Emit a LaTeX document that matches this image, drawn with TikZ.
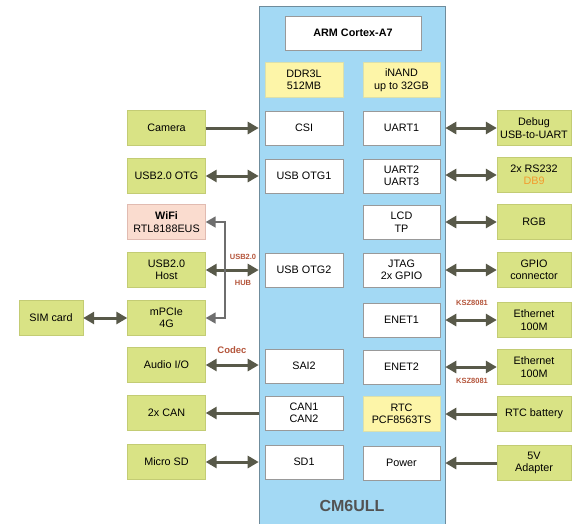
\documentclass[tikz,border=0pt]{standalone}
\usepackage{fontspec}
\setmainfont{Liberation Sans}
\usepackage{xcolor}
\usetikzlibrary{arrows.meta}
\definecolor{socblue}{HTML}{A3D9F4}
\definecolor{socedge}{HTML}{6F8C9C}
\definecolor{extgreen}{HTML}{D9E385}
\definecolor{extedge}{HTML}{C3CC74}
\definecolor{memyellow}{HTML}{FDF5A8}
\definecolor{wifipink}{HTML}{FADCCF}
\definecolor{arrowgray}{HTML}{585949}
\definecolor{hubgray}{HTML}{6E6E6E}
\definecolor{notered}{HTML}{B4553B}
\definecolor{dbcolor}{HTML}{F39A2C}

\begin{document}
\begin{tikzpicture}[x=1pt,y=-1pt,every node/.style={font=\fontsize{10.8}{12.5}\selectfont,align=center,inner sep=0pt},
  extbox/.style={fill=extgreen,draw=extedge,line width=0.4pt,minimum width=78pt,minimum height=35pt},
  rightbox/.style={extbox,minimum width=74pt},
  corebox/.style={fill=white,draw=gray!80,line width=0.6pt,minimum width=78pt,minimum height=34pt},
  membox/.style={fill=memyellow,draw=extedge!60,line width=0.4pt,minimum width=78pt,minimum height=35pt},
  note/.style={font=\fontsize{7.5}{8.5}\bfseries\selectfont,text=notered},
  link/.style={arrowgray,line width=3pt,{Triangle[length=11pt,width=12pt]}-{Triangle[length=11pt,width=12pt]}},
  linkin/.style={arrowgray,line width=3pt,-{Triangle[length=11pt,width=12pt]}},
  hublink/.style={hubgray,line width=1.8pt,-{Triangle[length=10pt,width=11pt]}}]
\useasboundingbox (0,0) rectangle (572,523);

% SoC module
\node[fill=socblue,draw=socedge,line width=0.6pt,minimum width=186pt,minimum height=520pt] (soc) at (352,266) {};
\node[font=\fontsize{16}{18}\bfseries\selectfont,text=black!68] (socname) at (352,506) {CM6ULL};
\node[corebox,minimum width=136pt] (cpu) at (353,33) {\bfseries ARM Cortex-A7};
\node[membox] (ddr) at (304,80) {DDR3L\\512MB};
\node[membox,minimum width=77pt] (nand) at (401.5,80) {iNAND\\up to 32GB};

% interfaces, left column
\node[corebox] (csi) at (304,128) {CSI};
\node[corebox] (otg1) at (304,176) {USB OTG1};
\node[corebox] (otg2) at (304,270) {USB OTG2};
\node[corebox] (sai) at (304,366) {SAI2};
\node[corebox] (can) at (304,413) {CAN1\\CAN2};
\node[corebox] (sd) at (304,462) {SD1};

% interfaces, right column
\node[corebox,minimum width=77pt] (uart1) at (401.5,128) {UART1};
\node[corebox,minimum width=77pt] (uart2) at (401.5,176) {UART2\\UART3};
\node[corebox,minimum width=77pt] (lcd) at (401.5,222) {LCD\\TP};
\node[corebox,minimum width=77pt] (jtag) at (401.5,270) {JTAG\\2x GPIO};
\node[corebox,minimum width=77pt] (enet1) at (401.5,320) {ENET1};
\node[corebox,minimum width=77pt] (enet2) at (401.5,367) {ENET2};
\node[membox,minimum width=77pt] (rtc) at (401.5,414) {RTC\\PCF8563TS};
\node[corebox,minimum width=77pt] (power) at (401.5,463) {Power};

% peripherals, left
\node[extbox] (camera) at (166.5,128) {Camera};
\node[extbox] (usbotg) at (166.5,176) {USB2.0 OTG};
\node[extbox,fill=wifipink,draw=notered!40] (wifi) at (166.5,222) {\textbf{WiFi}\\RTL8188EUS};
\node[extbox] (host) at (166.5,270) {USB2.0\\Host};
\node[extbox] (pcie) at (166.5,318) {mPCIe\\4G};
\node[extbox,minimum width=64pt] (sim) at (51,318) {SIM card};
\node[extbox] (audio) at (166.5,365) {Audio I/O};
\node[extbox] (canbus) at (166.5,413) {2x CAN};
\node[extbox] (microsd) at (166.5,462) {Micro SD};

% peripherals, right
\node[rightbox] (debug) at (534,128) {Debug\\USB-to-UART};
\node[rightbox] (rs232) at (534,175) {2x RS232\\\textcolor{dbcolor}{DB9}};
\node[rightbox] (rgb) at (534,222) {RGB};
\node[rightbox] (gpio) at (534,270) {GPIO\\connector};
\node[rightbox] (eth1) at (534,320) {Ethernet\\100M};
\node[rightbox] (eth2) at (534,367) {Ethernet\\100M};
\node[rightbox] (battery) at (534,414) {RTC battery};
\node[rightbox] (adapter) at (534,463) {5V\\Adapter};

% notes
\node[note] (hubup) at (243,257) {USB2.0};
\node[note] (hubdown) at (243,283) {HUB};
\node[note,font=\fontsize{9.5}{10}\bfseries\selectfont] (codec) at (232,350) {Codec};
\node[note] (phy1) at (472,303) {KSZ8081};
\node[note] (phy2) at (472,381) {KSZ8081};

% left links
\draw[linkin] (camera.east) -- (camera.east -| soc.west);
\draw[link] (usbotg.east) -- (usbotg.east -| soc.west);
\draw[link] (host.east) -- (host.east -| soc.west);
\draw[link] (audio.east) -- (audio.east -| soc.west);
\draw[linkin] (canbus.east -| soc.west) -- (canbus.east);
\draw[link] (microsd.east) -- (microsd.east -| soc.west);
\draw[link] (sim.east) -- (pcie.west);

% hub
\coordinate (hubtop) at (225,222);
\coordinate (hubbot) at (225,318);
\draw[hublink] (hubbot) -- (hubtop) -- (wifi.east);
\draw[hublink] (hubtop) -- (hubbot) -- (pcie.east);

% right links
\draw[link] (debug.west -| soc.east) -- (debug.west);
\draw[link] (rs232.west -| soc.east) -- (rs232.west);
\draw[link] (rgb.west -| soc.east) -- (rgb.west);
\draw[link] (gpio.west -| soc.east) -- (gpio.west);
\draw[link] (eth1.west -| soc.east) -- (eth1.west);
\draw[link] (eth2.west -| soc.east) -- (eth2.west);
\draw[linkin] (battery.west) -- (battery.west -| soc.east);
\draw[linkin] (adapter.west) -- (adapter.west -| soc.east);
\end{tikzpicture}
\end{document}
